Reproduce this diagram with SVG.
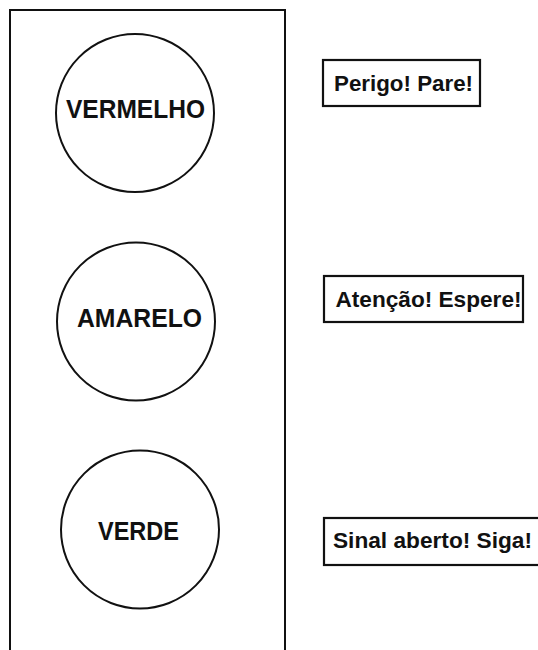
<svg xmlns="http://www.w3.org/2000/svg" width="538" height="650" viewBox="0 0 538 650">
<style>
.frame{fill:none;stroke:#111;stroke-width:2}
.light{fill:#fff;stroke:#111;stroke-width:2}
.box{fill:#fff;stroke:#111;stroke-width:2.2}
.lt{font-family:"Liberation Sans",Arial,sans-serif;font-weight:bold;font-size:25px;fill:#111;text-anchor:middle}
.bt{font-family:"Liberation Sans",Arial,sans-serif;font-weight:bold;font-size:22px;fill:#111;text-anchor:middle}
</style>
<rect width="538" height="650" fill="#fff"/>
<g id="semaforo">
<rect class="frame" x="10" y="10" width="275" height="660"/>
</g>
<g id="vermelho">
<circle class="light" cx="135" cy="113" r="79"/>
<text class="lt" x="135.5" y="118" textLength="139" lengthAdjust="spacingAndGlyphs">VERMELHO</text>
</g>
<g id="amarelo">
<circle class="light" cx="136" cy="321.5" r="79"/>
<text class="lt" x="139.5" y="327" textLength="125" lengthAdjust="spacingAndGlyphs">AMARELO</text>
</g>
<g id="verde">
<circle class="light" cx="140" cy="529.5" r="79"/>
<text class="lt" x="138.5" y="540" textLength="81" lengthAdjust="spacingAndGlyphs">VERDE</text>
</g>
<g id="perigo">
<rect class="box" x="323" y="60" width="157" height="46"/>
<text class="bt" x="403.5" y="91" textLength="139" lengthAdjust="spacingAndGlyphs">Perigo! Pare!</text>
</g>
<g id="atencao">
<rect class="box" x="324" y="276" width="199" height="46"/>
<text class="bt" x="428.5" y="307" textLength="186" lengthAdjust="spacingAndGlyphs">Atenção! Espere!</text>
</g>
<g id="sinal-aberto">
<rect class="box" x="324" y="518" width="230" height="47"/>
<text class="bt" x="432.5" y="548" textLength="199" lengthAdjust="spacingAndGlyphs">Sinal aberto! Siga!</text>
</g>
</svg>
